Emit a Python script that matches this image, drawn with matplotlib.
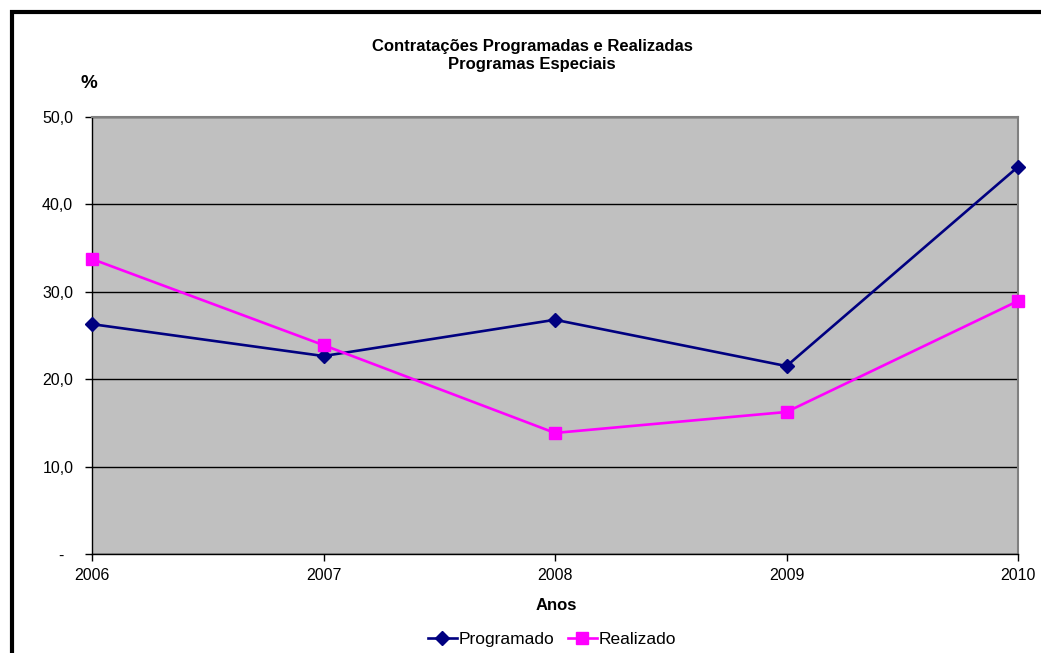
import matplotlib.pyplot as plt
from matplotlib.patches import Rectangle
from matplotlib.ticker import FuncFormatter

plt.rcParams['font.family'] = ['Liberation Sans', 'DejaVu Sans']

anos = [2006, 2007, 2008, 2009, 2010]
programado = [26.3, 22.65, 26.8, 21.5, 44.3]
realizado = [33.75, 23.9, 13.85, 16.25, 28.95]
y_ticks = [0, 10, 20, 30, 40, 50]

fig = plt.figure(figsize=(10.41, 6.53), dpi=100)

# outer chart frame (only left and top edges fall inside the image)
fig.patches.append(Rectangle((12 / 1041, -0.1), 1.2, 1 - 12 / 653 + 0.1,
                             transform=fig.transFigure, fill=False,
                             edgecolor='black', linewidth=3, zorder=10))

ax = fig.add_axes([92 / 1041, 1 - 554 / 653, 926 / 1041, 437 / 653])
ax.set_facecolor('#C0C0C0')

ax.plot(anos, programado, color='#000080', linewidth=1.9, marker='D',
        markersize=7, label='Programado', zorder=3, clip_on=False)
ax.plot(anos, realizado, color='#FF00FF', linewidth=1.9, marker='s',
        markersize=8, label='Realizado', zorder=3, clip_on=False)

ax.set_xlim(2006, 2010)
ax.set_ylim(0, 50)
ax.set_xticks(anos)
ax.set_yticks(y_ticks)
# zero shown as a dash, padded like an accounting number format
ax.yaxis.set_major_formatter(FuncFormatter(
    lambda v, p: '-  ' if v == 0 else f'{v:.1f}'.replace('.', ',')))
ax.grid(axis='y', color='black', linewidth=1)
ax.set_axisbelow(True)

for side in ['top', 'right']:
    ax.spines[side].set_color('#808080')
    ax.spines[side].set_linewidth(1.5)
for side in ['left', 'bottom']:
    ax.spines[side].set_color('black')
    ax.spines[side].set_linewidth(1)

ax.tick_params(axis='both', direction='out', length=5, width=1,
               labelsize=11.5, colors='black')
ax.tick_params(axis='x', pad=5)
ax.tick_params(axis='y', pad=8.5)

fig.text(532 / 1041, 1 - 47 / 653, 'Contratações Programadas e Realizadas',
         ha='center', va='center', fontsize=12, fontweight='bold')
fig.text(532 / 1041, 1 - 65 / 653, 'Programas Especiais',
         ha='center', va='center', fontsize=12, fontweight='bold')
fig.text(88.5 / 1041, 1 - 84 / 653, '%', ha='center', va='center',
         fontsize=13.5, fontweight='bold')
fig.text(556 / 1041, 1 - 605 / 653, 'Anos', ha='center', va='center',
         fontsize=12, fontweight='bold')

fig.legend(loc='center', bbox_to_anchor=(552 / 1041, 1 - 639 / 653),
           ncol=2, frameon=False, fontsize=12.5, handlelength=1.7,
           handletextpad=0.1, columnspacing=0.75, borderpad=0)

fig.savefig('out.png', dpi=100)
